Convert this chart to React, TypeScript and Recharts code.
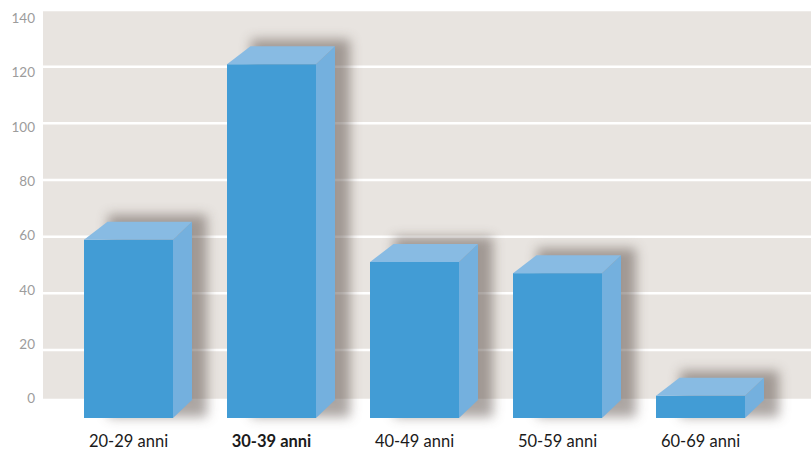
import React from "react";
import { BarChart, Bar, XAxis, YAxis, CartesianGrid } from "recharts";

const categories = ["20-29 anni", "30-39 anni", "40-49 anni", "50-59 anni", "60-69 anni"];
const values = [64, 127, 56, 52, 8];
const yTicks = [0, 20, 40, 60, 80, 100, 120, 140];
const gridTicks = [20, 40, 60, 80, 100, 120, 140];
const highlighted = "30-39 anni";

const data = categories.map((c, i) => ({ name: c, value: values[i] }));

const FRONT = "#429CD5";
const SIDE = "#74B0DE";
const TOP = "#88BBE3";
const BG = "#E8E4E0";
const DEPTH_Y = 18;
const DEPTH_R = 19;
const DEPTH_L = 23.5;
const FONT = "Lato, 'Open Sans', sans-serif";

function Bar3D(props: any) {
  const { x, y, width, height, index } = props;
  if (height == null || width == null) return null;
  const bottom = y + height;
  const fid = `bar-shadow-${index}`;
  return (
    <g>
      <defs>
        <filter id={fid} x="-50%" y="-50%" width="200%" height="200%">
          <feGaussianBlur stdDeviation="6" />
        </filter>
      </defs>
      <rect
        x={x + 24}
        y={y - 7}
        width={width + 10}
        height={height + 24}
        fill="#5a4e46"
        opacity={0.5}
        filter={`url(#${fid})`}
      />
      <rect x={x} y={y + DEPTH_Y} width={width} height={height} fill={FRONT} />
      <polygon
        points={`${x + width},${y + DEPTH_Y} ${x + width + DEPTH_R},${y} ${x + width + DEPTH_R},${bottom} ${x + width},${bottom + DEPTH_Y}`}
        fill={SIDE}
      />
      <polygon
        points={`${x},${y + DEPTH_Y} ${x + width},${y + DEPTH_Y} ${x + width + DEPTH_R},${y} ${x + DEPTH_L},${y}`}
        fill={TOP}
      />
    </g>
  );
}

function XTick(props: any) {
  const { x, y, payload } = props;
  const bold = payload.value === highlighted;
  return (
    <text
      x={x}
      y={y}
      dy="0.71em"
      textAnchor="middle"
      fontFamily={FONT}
      fontSize={16.5}
      fontWeight={bold ? 700 : 400}
      fill="#1a1a1a"
    >
      {payload.value}
    </text>
  );
}

export default function App() {
  return (
    <div style={{ position: "absolute", left: 0, top: 0, background: "#fff" }}>
      <BarChart
        width={811}
        height={462}
        data={data}
        margin={{ top: 10, right: 0, bottom: 32, left: 0 }}
        barSize={89}
      >
        <CartesianGrid
          yAxisId="grid"
          vertical={false}
          stroke="#ffffff"
          strokeWidth={2.5}
          fill={BG}
          fillOpacity={1}
        />
        <XAxis
          dataKey="name"
          padding={{ left: 14, right: 39 }}
          axisLine={false}
          tickLine={false}
          tickMargin={29}
          height={30}
          interval={0}
          tick={<XTick />}
        />
        <YAxis
          yAxisId="lab"
          orientation="left"
          type="number"
          domain={[-0.63, 143.06]}
          ticks={yTicks}
          allowDataOverflow
          width={43}
          axisLine={false}
          tickLine={false}
          tick={{ fill: "#9c9c9c", fontSize: 13.5, fontFamily: FONT, fontWeight: 400 }}
        />
        <YAxis
          yAxisId="grid"
          orientation="right"
          type="number"
          hide
          domain={[2.36, 140]}
          ticks={gridTicks}
          allowDataOverflow
        />
        <YAxis yAxisId="bar" orientation="right" type="number" hide domain={[0, 140]} />
        <Bar
          yAxisId="bar"
          dataKey="value"
          shape={<Bar3D />}
          isAnimationActive={false}
        />
      </BarChart>
    </div>
  );
}
